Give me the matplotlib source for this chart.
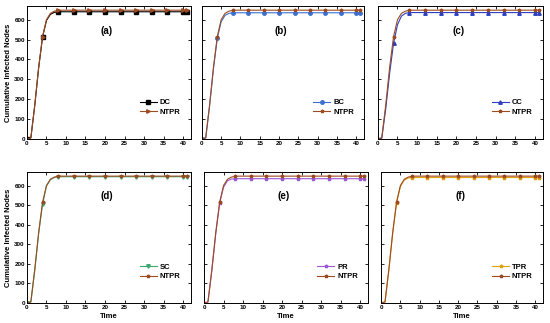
import matplotlib.pyplot as plt

plt.rcParams['font.family'] = ['Liberation Sans', 'DejaVu Sans']
plt.rcParams['font.weight'] = 'bold'

# time steps 0..41
time = list(range(42))

def plateau(rise, level):
    return rise + [level] * (42 - len(rise))

# cumulative infected nodes
ntpr = plateau([0, 5, 170, 360, 515, 600, 632, 643, 647], 648)
dc = plateau([0, 5, 168, 358, 513, 596, 627, 637, 640], 640)
bc = plateau([0, 5, 165, 352, 508, 590, 622, 632, 635], 635)
cc = plateau([0, 4, 150, 330, 482, 575, 618, 632, 636], 636)
sc = plateau([0, 5, 168, 355, 505, 597, 630, 641, 645], 645)
pr = plateau([0, 5, 166, 354, 510, 592, 624, 633, 635], 635)
tpr = plateau([0, 5, 168, 357, 512, 595, 628, 638, 641], 641)

panels = ['(a)', '(b)', '(c)', '(d)', '(e)', '(f)']
names = ['DC', 'BC', 'CC', 'SC', 'PR', 'TPR']
series = [dc, bc, cc, sc, pr, tpr]
colors = ['black', '#3b6fd1', '#2b3fc0', '#3aa86b', '#9b59d6', '#e0a010']
markers = ['s', 'o', '^', 'v', '*', '*']
ntpr_markers = ['>', '*', '*', '*', '*', '*']
ntpr_color = '#9c4a1f'

marks = [0, 4, 8, 12, 16, 20, 24, 28, 32, 36, 40, 41]

fig = plt.figure(figsize=(5.5, 3.23), dpi=100)
boxes = [
    [0.049, 0.570, 0.298, 0.412],
    [0.367, 0.570, 0.295, 0.412],
    [0.687, 0.570, 0.300, 0.412],
    [0.049, 0.062, 0.298, 0.406],
    [0.371, 0.062, 0.298, 0.406],
    [0.693, 0.062, 0.294, 0.406],
]

for i in range(6):
    ax = fig.add_axes(boxes[i])
    ax.plot(time, series[i], color=colors[i], marker=markers[i], markevery=marks,
            markersize=2.5, linewidth=0.8, label=names[i])
    ax.plot(time, ntpr, color=ntpr_color, marker=ntpr_markers[i], markevery=marks,
            markersize=2.5, linewidth=0.8, label='NTPR')
    ax.set_xlim(0, 42)
    ax.set_ylim(0, 670)
    ax.set_xticks([0, 5, 10, 15, 20, 25, 30, 35, 40])
    ax.set_yticks([0, 100, 200, 300, 400, 500, 600])
    ax.tick_params(direction='in', length=2, width=0.6, labelsize=4.5,
                   top=True, right=True, pad=1.5)
    for s in ax.spines.values():
        s.set_linewidth(0.7)
    if i % 3 != 0:
        ax.set_yticklabels([])
    else:
        ax.set_ylabel('Cumulative Infected Nodes', fontsize=5.5, fontweight='bold', labelpad=2)
    if i >= 3:
        ax.set_xlabel('Time', fontsize=5.5, fontweight='bold', labelpad=2)
    ax.text(20.5, 545, panels[i], fontsize=7, fontweight='bold', ha='center', va='center')
    ax.legend(loc='lower right', bbox_to_anchor=(0.98, 0.12), frameon=False,
              handlelength=2.2, handletextpad=0.4, labelspacing=0.3,
              prop={'weight': 'bold', 'size': 5.5})

fig.savefig('out.png', dpi=100)
